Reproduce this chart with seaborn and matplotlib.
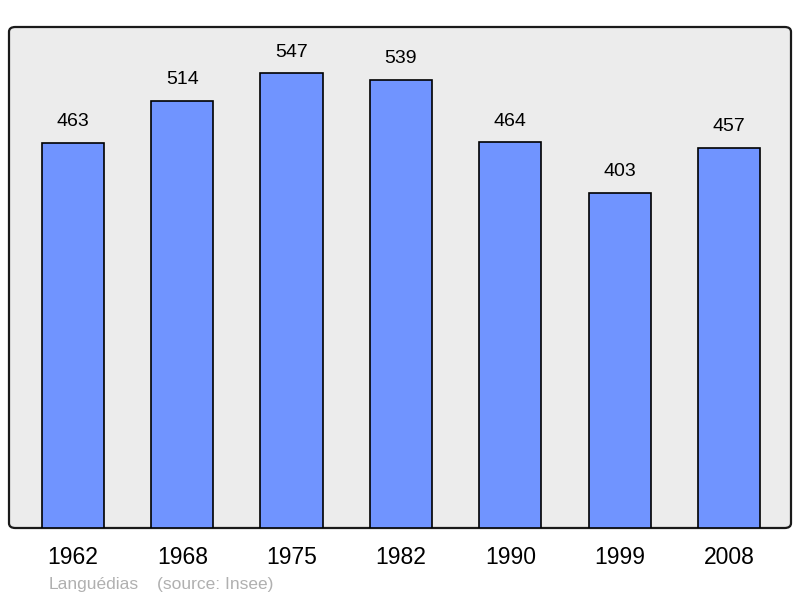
import matplotlib
matplotlib.use("Agg")
import matplotlib.pyplot as plt
from matplotlib.patches import FancyBboxPatch
import seaborn as sns
import pandas as pd

# Population data
years = ["1962", "1968", "1975", "1982", "1990", "1999", "2008"]
population = [463, 514, 547, 539, 464, 403, 457]
commune = "Languédias"
source = "(source: Insee)"

df = pd.DataFrame({"year": years, "pop": population})

sns.set_theme(style="white")
plt.rcParams["font.family"] = ["Liberation Sans", "DejaVu Sans"]

fig = plt.figure(figsize=(8, 5.98), dpi=100)
ax = fig.add_axes([9 / 800, 70 / 598, 782 / 800, 501 / 598])
ax.set_facecolor("none")
ax.set_zorder(2)

# rounded grey panel behind the bars
panel = FancyBboxPatch((9 / 800, 70 / 598), 782 / 800, 501 / 598,
                       boxstyle="round,pad=0,rounding_size=0.008",
                       transform=fig.transFigure, facecolor="#ececec",
                       edgecolor="#1a1a1a", linewidth=1.6, zorder=0)
fig.patches.append(panel)

sns.barplot(data=df, x="year", y="pop", color="#7094ff", saturation=1,
            width=0.57, edgecolor="black", linewidth=1.2, ax=ax, zorder=2)

for i, v in enumerate(population):
    ax.annotate(str(v), (i, v), xytext=(0, 9), textcoords="offset points",
                ha="center", va="bottom", fontsize=14, color="black")

ax.set_xlim(-0.585, 6.567)
ax.set_ylim(0, 602.5)
for s in ax.spines.values():
    s.set_visible(False)
ax.set_yticks([])
ax.set_xlabel("")
ax.set_ylabel("")
ax.tick_params(axis="x", length=0, pad=13, labelsize=16.5, labelcolor="black")

fig.text(49 / 800, 1 - 584 / 598, commune, fontsize=12.5, color="#b0b0b0",
         ha="left", va="center")
fig.text(157 / 800, 1 - 584 / 598, source, fontsize=12.5, color="#b0b0b0",
         ha="left", va="center")

fig.savefig("out.png", dpi=100)
